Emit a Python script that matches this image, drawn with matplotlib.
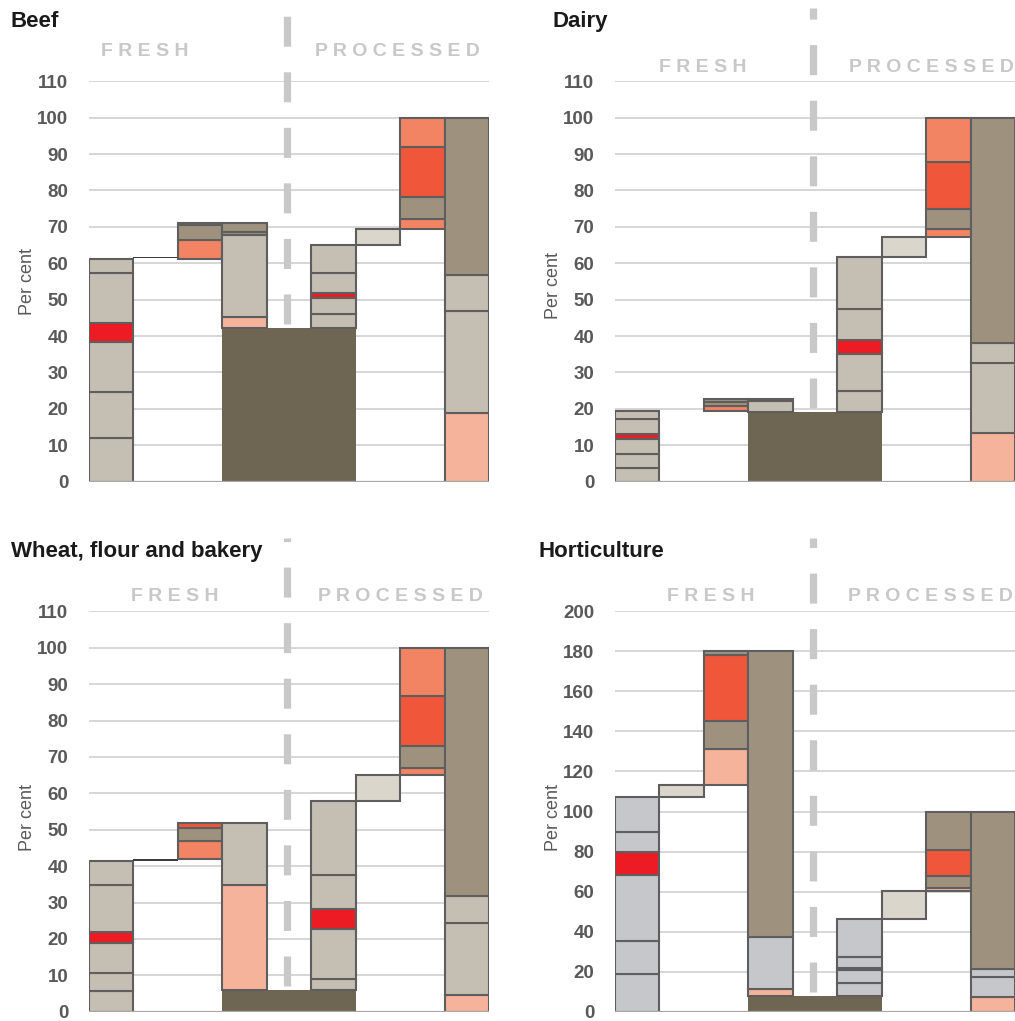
import matplotlib
matplotlib.use("Agg")
import matplotlib.pyplot as plt
import numpy as np
from matplotlib import font_manager as fm

plt.rcParams['lines.scale_dashes'] = False

# ---------------- data (segment boundaries per slot) -------------
BEEF_EDGES = [
    [0, 12.1, 24.6, 38.3, 43.7, 57.4, 61.3],
    [61.45, 61.85],
    [61.3, 66.4, 70.4, 71.0],
    [42.1, 45.3, 67.8, 68.7, 71.0],
    [],
    [42.1, 46.0, 50.4, 51.8, 57.4, 65.0],
    [65.0, 69.5],
    [69.5, 72.2, 78.1, 92.0, 100],
    [0, 19.0, 47.0, 56.8, 100],
]
BEEF_COLOURS = [list("BBBRBB"), list("K"), list("STT"), list("LBTT"), [],
                list("BBRBB"), list("G"), list("STOS"), list("LBBT")]
BEEF_BASE = 42.1

DAIRY_EDGES = [
    [0, 3.7, 7.5, 11.8, 13.2, 17.3, 19.5],
    [],
    [19.5, 20.9, 21.8, 22.7],
    [19.1, 22.2, 22.7],
    [],
    [19.1, 25.0, 35.0, 39.0, 47.4, 61.6],
    [61.6, 67.1],
    [67.1, 69.3, 74.8, 87.9, 100],
    [0, 13.5, 32.7, 38.2, 100],
]
DAIRY_COLOURS = [list("BBBRBB"), [], list("STT"), list("BT"), [],
                 list("BBRBB"), list("G"), list("STOS"), list("LBBT")]
DAIRY_BASE = 19.1

WHEAT_EDGES = [
    [0, 5.8, 10.7, 19.0, 22.0, 34.8, 41.3],
    [41.35, 41.85],
    [41.9, 47.0, 50.4, 51.9],
    [5.9, 34.8, 51.9],
    [],
    [5.9, 9.0, 22.7, 28.2, 37.6, 57.8],
    [57.8, 64.9],
    [64.9, 66.9, 73.1, 86.8, 100],
    [0, 4.6, 24.3, 31.9, 100],
]
WHEAT_COLOURS = [list("BBBRBB"), list("K"), list("STO"), list("LB"), [],
                 list("BBRBB"), list("G"), list("STOS"), list("LBBT")]
WHEAT_BASE = 5.9

HORT_EDGES = [
    [0, 18.7, 35.3, 68.5, 80.0, 90.0, 107.0],
    [107.0, 113.0],
    [113.0, 131.0, 145.0, 178.0, 180.0],
    [7.6, 11.2, 37.5, 180.0],
    [],
    [7.6, 14.5, 20.8, 22.0, 27.5, 46.3],
    [46.3, 60.3],
    [60.3, 62.0, 68.0, 81.0, 100],
    [0, 7.5, 17.5, 21.2, 100],
]
HORT_COLOURS = [list("YYYRYY"), list("G"), list("LTOT"), list("LYT"), [],
                list("YYRYY"), list("G"), list("LTOT"), list("LYYT")]
HORT_BASE = 7.6

TITLES = ["Beef", "Dairy", "Wheat, flour and bakery", "Horticulture"]
Y_MAX = [110, 110, 110, 200]
Y_STEP = [10, 10, 10, 20]

# ---------------- styles ----------------
COL = {'B': '#c5beb2', 'T': '#9e927f', 'D': '#6e6652', 'L': '#f6b39c',
       'S': '#f28464', 'O': '#f0573a', 'R': '#ed1c24', 'G': '#dad6cc',
       'Y': '#c6c7ca', 'K': '#3c3c3c'}
EDGE = '#5e5e5e'
GRID = '#d3d3d3'
TXT = '#595959'
LABEL_GREY = '#c8c8c8'

names = {f.name for f in fm.fontManager.ttflist}
NARROW = 'Liberation Sans Narrow' in names
if NARROW:
    TICK_FONT = dict(family=['Liberation Sans Narrow', 'DejaVu Sans'], size=15, weight='bold')
    YLAB_FONT = dict(family=['Liberation Sans Narrow', 'DejaVu Sans'], size=15.5)
else:
    TICK_FONT = dict(family=['Liberation Sans', 'DejaVu Sans'], size=13.5, weight='bold')
    YLAB_FONT = dict(family=['Liberation Sans', 'DejaVu Sans'], size=13)
TITLE_FONT = dict(family=['Liberation Sans', 'DejaVu Sans'], size=16, weight='bold')
SEC_FONT = dict(family=['Liberation Sans', 'DejaVu Sans'], size=14, weight='bold')

W, H = 1015, 1021
fig = plt.figure(figsize=(W / 100, H / 100), dpi=100)

# per panel layout (pixels)
LAYOUT = [
    # axes left, axes y0(px), title x, title baseline, fresh cx, proc cx, sec baseline, ylabel cx, ylabel yfrac
    (89, 481.7, 11, 27, 145, 397, 56.5, 27, 0.50),
    (615, 481.7, 552, 27, 703, 931, 72.5, 554, 0.49),
    (89, 1011.7, 11, 557, 175, 400, 601, 27, 0.486),
    (615, 1011.7, 538, 557, 711, 930, 601, 554, 0.486),
]
DATA = [(BEEF_EDGES, BEEF_COLOURS, BEEF_BASE),
        (DAIRY_EDGES, DAIRY_COLOURS, DAIRY_BASE),
        (WHEAT_EDGES, WHEAT_COLOURS, WHEAT_BASE),
        (HORT_EDGES, HORT_COLOURS, HORT_BASE)]

for p in range(4):
    axl, y0, tx, tby, fcx, pcx, sby, ylx, yly = LAYOUT[p]
    edges, cols, base = DATA[p]
    ymax, step = Y_MAX[p], Y_STEP[p]
    ax = fig.add_axes([axl / W, 1 - y0 / H, 400 / W, 400.4 / H])
    ax.set_xlim(-0.5, 8.5)
    ax.set_ylim(0, ymax)
    ticks = np.arange(0, ymax + 1, step)
    ax.set_yticks(ticks)
    ax.set_xticks([])
    for s in ax.spines.values():
        s.set_visible(False)
    for t in ticks[1:]:
        ax.axhline(t, color=GRID, lw=1.3, zorder=0)
    ax.axhline(0, color='#a8a8a8', lw=1.6, zorder=5)
    ax.tick_params(axis='y', length=0, pad=15, colors=TXT)
    for lab in ax.get_yticklabels():
        lab.set_fontfamily(TICK_FONT['family'])
        lab.set_fontsize(TICK_FONT['size'])
        lab.set_fontweight(TICK_FONT['weight'])
        lab.set_color(TXT)

    # dark base across the middle slots
    ax.bar(4, base, width=3, bottom=0, color=COL['D'], linewidth=0, zorder=2)

    # stacked segments
    for i, (e, c) in enumerate(zip(edges, cols)):
        if len(e) < 2:
            continue
        e = np.asarray(e, dtype=float)
        h = np.diff(e)
        for k in range(len(h)):
            if c[k] == 'K':
                ax.bar(i, h[k], bottom=e[k], width=1, color=COL['K'], linewidth=0, zorder=3)
            else:
                ax.bar(i, h[k], bottom=e[k], width=1, color=COL[c[k]],
                       edgecolor=EDGE, linewidth=1.5, zorder=3)

    # dashed divider between fresh and processed
    gap = ymax * 4.5 / 400
    ax.plot([3.95, 3.95], [base + gap, ymax * 1.183], color=LABEL_GREY, lw=5.2,
            linestyle=(0, (21.6, 18.4)), dash_capstyle='butt', clip_on=False, zorder=1)

    ax.text((ylx - axl) / 400, yly, 'Per cent', transform=ax.transAxes, rotation=90,
            ha='center', va='center', color=TXT, **YLAB_FONT)

    fig.text(tx / W, 1 - tby / H, TITLES[p], ha='left', va='baseline', color='#1a1a1a', **TITLE_FONT)
    fig.text(fcx / W, 1 - sby / H, 'F R E S H', ha='center', va='baseline', color=LABEL_GREY, **SEC_FONT)
    fig.text(pcx / W, 1 - sby / H, 'P R O C E S S E D', ha='center', va='baseline', color=LABEL_GREY, **SEC_FONT)

fig.savefig('out.png', dpi=100, facecolor='white')
